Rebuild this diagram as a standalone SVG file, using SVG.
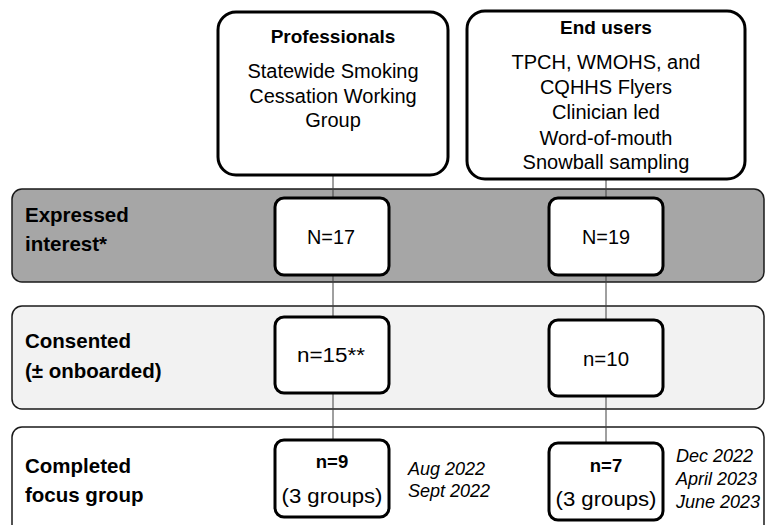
<svg xmlns="http://www.w3.org/2000/svg" width="766" height="525" viewBox="0 0 766 525">
<style>
text{font-family:"Liberation Sans",Arial,sans-serif;fill:#000}
.t{font-size:20px;text-anchor:middle}
.b{font-size:18.5px;font-weight:bold;text-anchor:middle}
.h{font-size:19px;font-weight:bold;text-anchor:middle}
.l{font-size:20.5px;font-weight:bold}
.d{font-size:18px;font-style:italic}
.band{stroke:#1a1a1a;stroke-width:1.5}
.box{fill:#fff;stroke:#000;stroke-width:3}
.c{stroke:#404040;stroke-width:1;fill:none}
</style>
<rect width="766" height="525" fill="#fff"/>
<g id="band-expressed"><rect class="band" x="12" y="189" width="752" height="93" rx="10" fill="#a6a6a6"/><text class="l" x="25" y="222">Expressed</text><text class="l" x="25" y="251">interest*</text></g>
<g id="band-consented"><rect class="band" x="12" y="306" width="752" height="103" rx="10" fill="#f2f2f2"/><text class="l" x="25" y="348">Consented</text><text class="l" x="25" y="378">(± onboarded)</text></g>
<g id="band-completed"><rect class="band" x="12" y="427" width="752" height="120" rx="10" fill="#fff"/><text class="l" x="25" y="473">Completed</text><text class="l" x="25" y="502">focus group</text></g>
<g id="connectors">
<path class="c" d="M333 175V198M333 275V317M333 393V440"/>
<path class="c" d="M606 179V198M606 275V320M606 396V443"/>
</g>
<g id="professionals"><rect class="box" x="218" y="12" width="230" height="163" rx="18"/><text class="h" x="333" y="43">Professionals</text><text class="t" x="333" y="78">Statewide Smoking</text><text class="t" x="333" y="103">Cessation Working</text><text class="t" x="333" y="127">Group</text></g>
<g id="end-users"><rect class="box" x="467" y="11" width="278" height="168" rx="18"/><text class="h" x="606" y="34">End users</text><text class="t" x="606" y="69">TPCH, WMOHS, and</text><text class="t" x="606" y="94">CQHHS Flyers</text><text class="t" x="606" y="119">Clinician led</text><text class="t" x="606" y="145">Word-of-mouth</text><text class="t" x="606" y="169">Snowball sampling</text></g>
<g id="prof-expressed"><rect class="box" x="275" y="198" width="114" height="77" rx="9"/><text class="t" x="331" y="244" textLength="48" lengthAdjust="spacingAndGlyphs">N=17</text></g>
<g id="end-expressed"><rect class="box" x="549" y="198" width="114" height="77" rx="9"/><text class="t" x="606" y="244" textLength="48" lengthAdjust="spacingAndGlyphs">N=19</text></g>
<g id="prof-consented"><rect class="box" x="275" y="317" width="114" height="76" rx="9"/><text class="t" x="331" y="362" textLength="68" lengthAdjust="spacingAndGlyphs">n=15**</text></g>
<g id="end-consented"><rect class="box" x="549" y="320" width="114" height="76" rx="9"/><text class="t" x="606" y="366" textLength="46" lengthAdjust="spacingAndGlyphs">n=10</text></g>
<g id="prof-completed"><rect class="box" x="275" y="440" width="114" height="77" rx="9"/><text class="b" x="332" y="468">n=9</text><text class="t" x="332" y="503" textLength="101" lengthAdjust="spacingAndGlyphs">(3 groups)</text><text class="d" x="408" y="475">Aug 2022</text><text class="d" x="408" y="497">Sept 2022</text></g>
<g id="end-completed"><rect class="box" x="549" y="443" width="114" height="77" rx="9"/><text class="b" x="606" y="472">n=7</text><text class="t" x="606" y="506" textLength="101" lengthAdjust="spacingAndGlyphs">(3 groups)</text><text class="d" x="676" y="462">Dec 2022</text><text class="d" x="676" y="485">April 2023</text><text class="d" x="676" y="508">June 2023</text></g>
</svg>
